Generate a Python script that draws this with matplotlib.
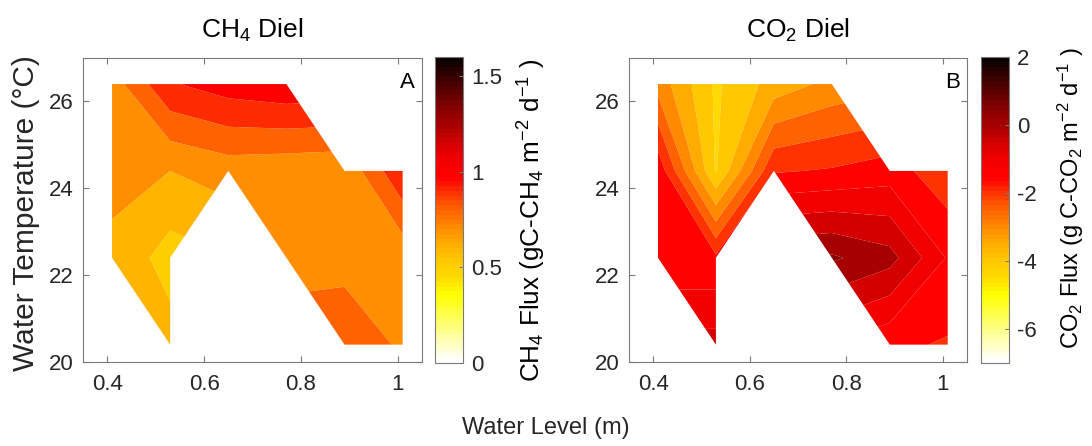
import numpy as np
import matplotlib
matplotlib.use('Agg')
from matplotlib import pyplot as plt, colors, cm

plt.rcParams['font.family'] = ['Liberation Sans', 'DejaVu Sans']
plt.rcParams['mathtext.fontset'] = 'custom'
plt.rcParams['mathtext.rm'] = 'Liberation Sans'
plt.rcParams['mathtext.it'] = 'Liberation Sans:italic'
plt.rcParams['mathtext.default'] = 'regular'
plt.rcParams['axes.unicode_minus'] = False

nan = np.nan

# Grid of the measurements
water_level = [0.41, 0.53, 0.65, 0.77, 0.89, 1.01]
water_temp = [20.4, 22.4, 24.4, 26.4]

# Fluxes, one row per water temperature
ch4_flux = [
    [nan, 0.646, nan, nan, 0.86, 0.786],
    [0.684, 0.554, nan, 0.762, 0.770, 0.73],
    [0.72, 0.70, 0.745, 0.73, 0.72, 0.99],
    [0.75, 0.99, 1.05, 1.08, nan, nan],
]
co2_flux = [
    [nan, -0.3, nan, nan, -1.4, -1.55],
    [-1.4, -1.4, nan, 0.58, 0.19, -1.05],
    [-1.14, -4.05, -1.55, -1.45, -1.25, -1.85],
    [-2.7, -4.08, -3.3, -2.85, nan, nan],
]

ch4_levels = [0.5, 0.6, 0.7, 0.8, 0.9, 1.0, 1.1]
co2_levels = [-4.5, -4.0, -3.5, -3.0, -2.5, -2.0, -1.5, -1.0, -0.5, 0.0, 0.5, 1.0]

ch4_clim = (0, 1.6)
co2_clim = (-7, 2)
ch4_cticks = [0, 0.5, 1, 1.5]
ch4_cticklabels = ['0', '0.5', '1', '1.5']
co2_cticks = [-6, -4, -2, 0, 2]
co2_cticklabels = ['-6', '-4', '-2', '0', '2']
xticks = [0.4, 0.6, 0.8, 1.0]
xticklabels = ['0.4', '0.6', '0.8', '1']
yticks = [20, 22, 24, 26]

# white -> yellow -> orange -> red -> black
anchors = [
    (0.0, (1, 1, 1)), (0.22, (1, 1, 0)), (0.28, (1, 0.85, 0)),
    (0.33, (1, 0.79, 0)), (0.38, (1, 0.69, 0)), (0.44, (1, 0.55, 0)),
    (0.50, (1, 0.39, 0)), (0.56, (1, 0.19, 0)), (0.60, (1, 0.02, 0)),
    (0.62, (1, 0, 0)), (0.667, (0.95, 0, 0)), (0.722, (0.83, 0, 0)),
    (0.778, (0.66, 0, 0)), (0.833, (0.54, 0, 0)), (1.0, (0.04, 0, 0)),
]
cmap = colors.LinearSegmentedColormap.from_list('flux', anchors, N=256)
cmap_bar = cmap.resampled(64)

W, H = 1092, 446
fig = plt.figure(figsize=(W / 100, H / 100), dpi=100)

def px_box(left, right, top, bottom):
    return [left / W, (H - bottom) / H, (right - left) / W, (bottom - top) / H]

edge = '#7a7a7a'
txt = '#262626'

def panel(ax_box, cax_box, flux, levels, clim, cticks, cticklabels, title, letter,
          clabel, clabel_pos, clabel_size):
    ax = fig.add_axes(px_box(*ax_box))
    cax = fig.add_axes(px_box(*cax_box))
    norm = colors.Normalize(*clim)

    X, Y = np.meshgrid(water_level, water_temp)
    Z = np.ma.masked_invalid(np.array(flux))
    # MATLAB-like: each band takes the colour of its lower level
    band_colors = [cmap(norm(l)) for l in levels[:-1]]
    ax.contourf(X, Y, Z, levels=levels, colors=band_colors, antialiased=True)

    ax.set_xlim(0.35, 1.05)
    ax.set_ylim(20, 27)
    ax.set_xticks(xticks)
    ax.set_xticklabels(xticklabels)
    ax.set_yticks(yticks)
    ax.tick_params(direction='in', top=True, right=True, length=4, width=0.8,
                   color=edge, labelcolor=txt, labelsize=16)
    ax.tick_params(axis='x', pad=9)
    ax.tick_params(axis='y', pad=7)
    for s in ax.spines.values():
        s.set_color(edge)
        s.set_linewidth(0.8)

    ax.text(0.5, 1.068, title, transform=ax.transAxes, ha='center', va='baseline',
            fontsize=19, color='black')
    ax.text(0.978, 0.955, letter, transform=ax.transAxes, ha='right', va='top',
            fontsize=16, color='black')

    cb = fig.colorbar(cm.ScalarMappable(norm=norm, cmap=cmap_bar), cax=cax)
    cb.set_ticks(cticks)
    cb.set_ticklabels(cticklabels)
    cb.ax.tick_params(direction='in', length=3, width=0.8, color=edge,
                      labelcolor=txt, labelsize=16, pad=6)
    cb.outline.set_edgecolor(edge)
    cb.outline.set_linewidth(0.8)
    cax.text(clabel_pos[0], clabel_pos[1], clabel, transform=cax.transAxes,
             rotation=90, ha='center', va='center', fontsize=clabel_size,
             color='black')
    return ax

ax1 = panel((83, 422, 58, 362), (435, 463, 57, 363), ch4_flux, ch4_levels, ch4_clim,
            ch4_cticks, ch4_cticklabels, r'CH$_4$ Diel', 'A',
            r'CH$_4$ Flux (gC-CH$_4$ m$^{-2}$ d$^{-1}$ )', (3.46, 0.467), 18.8)

ax2 = panel((629, 967, 58, 362), (981, 1009, 57, 363), co2_flux, co2_levels, co2_clim,
            co2_cticks, co2_cticklabels, r'CO$_2$ Diel', 'B',
            r'CO$_2$ Flux (g C-CO$_2$ m$^{-2}$ d$^{-1}$ )', (3.2, 0.539), 17)

fig.text(26 / W, 1 - 213 / H, 'Water Temperature (°C)', rotation=90,
         ha='center', va='center', fontsize=21.5, color=txt)
fig.text(546 / W, 1 - 428 / H, 'Water Level (m)', ha='center', va='center',
         fontsize=17, color=txt)

fig.savefig('out.png', dpi=100)
